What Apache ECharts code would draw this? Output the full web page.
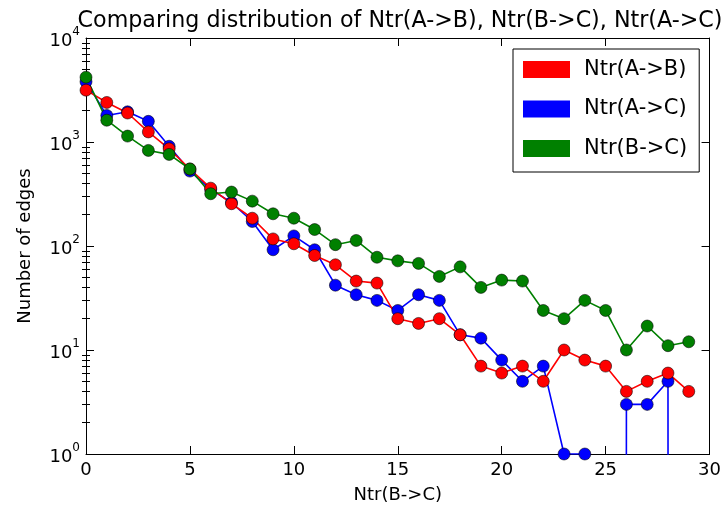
<!DOCTYPE html>
<html>
<head>
<meta charset="utf-8">
<script src="https://cdn.jsdelivr.net/npm/echarts@6/dist/echarts.min.js"></script>
<style>
  html, body { margin: 0; padding: 0; background: #fff; }
  #chart { width: 724px; height: 511px; }
</style>
</head>
<body>
<div id="chart"></div>
<script>
// Edge counts per Ntr(B->C) value, 0..29
const xValues = [0, 1, 2, 3, 4, 5, 6, 7, 8, 9, 10, 11, 12, 13, 14, 15, 16, 17, 18, 19, 20, 21, 22, 23, 24, 25, 26, 27, 28, 29];
const ntrAB = [3150, 2400, 1900, 1250, 860, 550, 360, 255, 185, 117, 105, 81, 66, 46, 44, 20, 18, 20, 14, 7, 6, 7, 5, 10, 8, 7, 4, 5, 6, 4];
const ntrAC = [3800, 1800, 1950, 1580, 910, 525, 350, 262, 172, 92, 125, 92, 42, 34, 30, 24, 34, 30, 14, 13, 8, 5, 7, 1, 1, 0, 3, 3, 5, 0];
const ntrBC = [4200, 1620, 1140, 830, 760, 550, 318, 330, 270, 204, 185, 144, 103, 113, 78, 72, 68, 51, 63, 40, 47, 46, 24, 20, 30, 24, 10, 17, 11, 12];

const xTicks = [0, 5, 10, 15, 20, 25, 30];
const yMajorTicks = [1, 10, 100, 1000, 10000];

const FONT = 'DejaVu Sans';

// minor log ticks 2..9 inside each decade
const yMinorTicks = [];
for (let d = 0; d < 4; d++) {
  for (let k = 2; k <= 9; k++) yMinorTicks.push(k * Math.pow(10, d));
}

// zero counts cannot sit on a log scale: push them far below the axis so the
// connecting segments drop out of the plot, as a clipped log plot does
const LOG_FLOOR = 1e-300;
function pairs(vals) {
  return xValues.map((x, i) => [x, vals[i] > 0 ? vals[i] : LOG_FLOOR]);
}

function seriesOf(name, color, vals) {
  return {
    name: name,
    type: 'line',
    data: pairs(vals),
    xAxisIndex: 0,
    yAxisIndex: 0,
    clip: true,
    symbol: 'circle',
    symbolSize: 12,
    showSymbol: true,
    animation: false,
    lineStyle: { color: color, width: 1.6 },
    itemStyle: { color: color, borderColor: 'rgba(0,0,0,0.55)', borderWidth: 1 },
    emphasis: { disabled: true }
  };
}

const supDigits = { 0: '0', 1: '1', 2: '2', 3: '3', 4: '4' };

const yAxisBase = {
  type: 'log',
  logBase: 10,
  min: 1,
  max: 10000,
  splitLine: { show: false },
  axisLine: { show: false },
  axisLabel: { show: false },
  axisTick: { show: false }
};

const chart = echarts.init(document.getElementById('chart'), null, { renderer: 'canvas' });

chart.setOption({
  animation: false,
  backgroundColor: '#fff',
  textStyle: { fontFamily: FONT },
  title: {
    text: 'Comparing distribution of Ntr(A->B), Ntr(B->C), Ntr(A->C)',
    left: 395,
    textAlign: 'center',
    top: 5,
    textStyle: { fontFamily: FONT, fontSize: 22.2, fontWeight: 'normal', color: '#000' }
  },
  grid: { left: 86, right: 12, top: 38, bottom: 57, containLabel: false },
  legend: {
    data: ['Ntr(A->B)', 'Ntr(A->C)', 'Ntr(B->C)'],
    orient: 'vertical',
    left: 513,
    top: 49,
    icon: 'rect',
    itemWidth: 47,
    itemHeight: 17,
    itemGap: 18.5,
    padding: [10, 12, 13, 10],
    borderColor: '#000',
    borderWidth: 1,
    backgroundColor: '#fff',
    selectedMode: false,
    itemStyle: { borderWidth: 0 },
    textStyle: { fontFamily: FONT, fontSize: 21, color: '#000', padding: [0, 0, 0, 9], lineHeight: 17 }
  },
  xAxis: [
    {
      type: 'value',
      min: 0,
      max: 30,
      interval: 5,
      position: 'bottom',
      name: 'Ntr(B->C)',
      nameLocation: 'middle',
      nameGap: 32,
      nameTextStyle: { fontFamily: FONT, fontSize: 18, color: '#000' },
      splitLine: { show: false },
      axisLine: { show: true, onZero: false, lineStyle: { color: '#000', width: 1 } },
      axisTick: { show: true, inside: true, length: 8, lineStyle: { color: '#000' } },
      axisLabel: {
        show: true, margin: 7, fontFamily: FONT, fontSize: 18, color: '#000',
        customValues: xTicks,
        formatter: v => String(v)
      }
    },
    {
      type: 'value',
      min: 0,
      max: 30,
      interval: 5,
      position: 'top',
      splitLine: { show: false },
      axisLine: { show: true, onZero: false, lineStyle: { color: '#000', width: 1 } },
      axisTick: { show: true, inside: true, length: 8, lineStyle: { color: '#000' } },
      axisLabel: { show: false }
    }
  ],
  yAxis: [
    Object.assign({}, yAxisBase, {
      position: 'left',
      name: 'Number of edges',
      nameLocation: 'middle',
      nameRotate: 90,
      nameGap: 52,
      nameTextStyle: { fontFamily: FONT, fontSize: 18, color: '#000' },
      axisLine: { show: true, onZero: false, lineStyle: { color: '#000', width: 1 } },
      axisTick: { show: true, inside: true, length: 8, lineStyle: { color: '#000' }, customValues: yMajorTicks },
      axisLabel: {
        show: true,
        margin: 6,
        customValues: yMajorTicks,
        formatter: v => '{b|10}{s|' + supDigits[Math.round(Math.log10(v))] + '}',
        rich: {
          b: { fontFamily: FONT, fontSize: 18, color: '#000', lineHeight: 24, verticalAlign: 'bottom' },
          s: { fontFamily: FONT, fontSize: 12, color: '#000', lineHeight: 12, verticalAlign: 'top' }
        }
      }
    }),
    Object.assign({}, yAxisBase, {
      position: 'left',
      axisTick: { show: true, inside: true, length: 4, lineStyle: { color: '#000' }, customValues: yMinorTicks }
    }),
    Object.assign({}, yAxisBase, {
      position: 'right',
      axisLine: { show: true, onZero: false, lineStyle: { color: '#000', width: 1 } },
      axisTick: { show: true, inside: true, length: 8, lineStyle: { color: '#000' }, customValues: yMajorTicks }
    }),
    Object.assign({}, yAxisBase, {
      position: 'right',
      axisTick: { show: true, inside: true, length: 4, lineStyle: { color: '#000' }, customValues: yMinorTicks }
    })
  ],
  series: [
    seriesOf('Ntr(A->C)', '#0000ff', ntrAC),
    seriesOf('Ntr(A->B)', '#ff0000', ntrAB),
    seriesOf('Ntr(B->C)', '#008000', ntrBC)
  ]
});
</script>
</body>
</html>
